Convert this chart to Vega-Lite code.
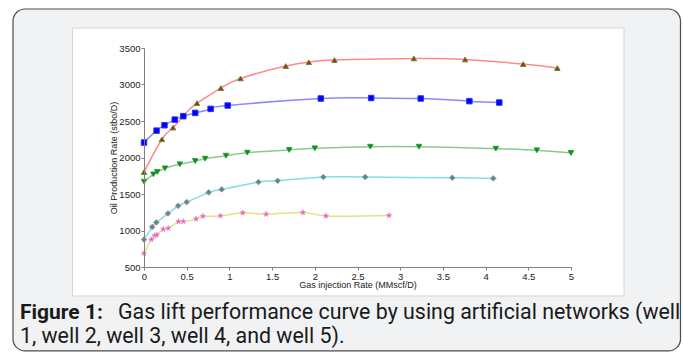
{
  "$schema": "https://vega.github.io/schema/vega-lite/v6.json",
  "width": 427,
  "height": 219,
  "autosize": {"type": "none"},
  "padding": {"left": 144, "top": 48, "right": 112, "bottom": 85},
  "background": "white",
  "config": {
    "view": {"stroke": null},
    "axis": {
      "grid": false, "domainColor": "#808080", "tickColor": "#808080", "tickSize": 3, "labelPadding": 1,
      "labelFlush": false, "labelOverlap": false, "labelFont": "Liberation Sans", "labelFontSize": 9.5, "labelColor": "#222",
      "titleFont": "Liberation Sans", "titleFontSize": 9, "titleFontWeight": "normal", "titleColor": "#222", "titlePadding": 0
    }
  },
  "datasets": {
    "one": [{}],
    "wells": [
      {"well": "Well 1", "x": 0, "y": 1800}, {"well": "Well 1", "x": 0.21, "y": 2250}, {"well": "Well 1", "x": 0.34, "y": 2410}, {"well": "Well 1", "x": 0.46, "y": 2570}, {"well": "Well 1", "x": 0.62, "y": 2745}, {"well": "Well 1", "x": 0.9, "y": 2950}, {"well": "Well 1", "x": 1.13, "y": 3083}, {"well": "Well 1", "x": 1.66, "y": 3253}, {"well": "Well 1", "x": 1.93, "y": 3305}, {"well": "Well 1", "x": 2.23, "y": 3335}, {"well": "Well 1", "x": 3.16, "y": 3357}, {"well": "Well 1", "x": 3.76, "y": 3343}, {"well": "Well 1", "x": 4.44, "y": 3280}, {"well": "Well 1", "x": 4.84, "y": 3225},
      {"well": "Well 2", "x": 0, "y": 2205}, {"well": "Well 2", "x": 0.147, "y": 2368}, {"well": "Well 2", "x": 0.24, "y": 2442}, {"well": "Well 2", "x": 0.36, "y": 2519}, {"well": "Well 2", "x": 0.46, "y": 2566}, {"well": "Well 2", "x": 0.6, "y": 2611}, {"well": "Well 2", "x": 0.78, "y": 2666}, {"well": "Well 2", "x": 0.98, "y": 2712}, {"well": "Well 2", "x": 2.07, "y": 2808}, {"well": "Well 2", "x": 2.66, "y": 2815}, {"well": "Well 2", "x": 3.24, "y": 2808}, {"well": "Well 2", "x": 3.81, "y": 2772}, {"well": "Well 2", "x": 4.16, "y": 2753},
      {"well": "Well 3", "x": 0, "y": 1668}, {"well": "Well 3", "x": 0.11, "y": 1769}, {"well": "Well 3", "x": 0.155, "y": 1801}, {"well": "Well 3", "x": 0.245, "y": 1851}, {"well": "Well 3", "x": 0.42, "y": 1907}, {"well": "Well 3", "x": 0.6, "y": 1952}, {"well": "Well 3", "x": 0.716, "y": 1984}, {"well": "Well 3", "x": 0.96, "y": 2025}, {"well": "Well 3", "x": 1.21, "y": 2066}, {"well": "Well 3", "x": 1.7, "y": 2103}, {"well": "Well 3", "x": 2.0, "y": 2126}, {"well": "Well 3", "x": 2.65, "y": 2148}, {"well": "Well 3", "x": 3.22, "y": 2148}, {"well": "Well 3", "x": 4.12, "y": 2121}, {"well": "Well 3", "x": 4.6, "y": 2099}, {"well": "Well 3", "x": 5.0, "y": 2062},
      {"well": "Well 4", "x": 0, "y": 876}, {"well": "Well 4", "x": 0.096, "y": 1049}, {"well": "Well 4", "x": 0.145, "y": 1110}, {"well": "Well 4", "x": 0.28, "y": 1233}, {"well": "Well 4", "x": 0.4, "y": 1338}, {"well": "Well 4", "x": 0.5, "y": 1389}, {"well": "Well 4", "x": 0.757, "y": 1522}, {"well": "Well 4", "x": 0.91, "y": 1563}, {"well": "Well 4", "x": 1.34, "y": 1663}, {"well": "Well 4", "x": 1.565, "y": 1681}, {"well": "Well 4", "x": 2.1, "y": 1732}, {"well": "Well 4", "x": 2.59, "y": 1732}, {"well": "Well 4", "x": 3.61, "y": 1723}, {"well": "Well 4", "x": 4.09, "y": 1714},
      {"well": "Well 5", "x": 0, "y": 688}, {"well": "Well 5", "x": 0.086, "y": 876}, {"well": "Well 5", "x": 0.125, "y": 931}, {"well": "Well 5", "x": 0.15, "y": 940}, {"well": "Well 5", "x": 0.225, "y": 1018}, {"well": "Well 5", "x": 0.285, "y": 1032}, {"well": "Well 5", "x": 0.404, "y": 1124}, {"well": "Well 5", "x": 0.46, "y": 1124}, {"well": "Well 5", "x": 0.61, "y": 1159}, {"well": "Well 5", "x": 0.69, "y": 1196}, {"well": "Well 5", "x": 0.895, "y": 1200}, {"well": "Well 5", "x": 1.156, "y": 1242}, {"well": "Well 5", "x": 1.43, "y": 1224}, {"well": "Well 5", "x": 1.86, "y": 1247}, {"well": "Well 5", "x": 2.13, "y": 1200}, {"well": "Well 5", "x": 2.87, "y": 1206}
    ]
  },
  "layer": [
    {
      "data": {"name": "one"},
      "mark": {"type": "rect", "fill": "#f1f2f4", "stroke": "#4d4d4d", "strokeWidth": 1.2, "cornerRadius": 12},
      "encoding": {
        "x": {"datum": -1.534, "type": "quantitative", "axis": {"zindex": 1, "labelOverlap": false, "tickCount": 20, "title": "Gas injection Rate (MMscf/D)", "values": [0, 0.5, 1, 1.5, 2, 2.5, 3, 3.5, 4, 4.5, 5], "format": "~g"}},
        "x2": {"datum": 6.282},
        "y": {"datum": 4034, "type": "quantitative", "axis": {"zindex": 1, "labelOverlap": false, "tickCount": 20, "title": "Oil Production Rate (stbo/D)", "values": [500, 1000, 1500, 2000, 2500, 3000, 3500], "format": "d"}},
        "y2": {"datum": -650}
      }
    },
    {
      "data": {"name": "one"},
      "mark": {"type": "rect", "fill": "white", "stroke": "#d4d4d4", "strokeWidth": 1},
      "encoding": {
        "x": {"datum": -0.837, "type": "quantitative"}, "x2": {"datum": 5.621},
        "y": {"datum": 3774, "type": "quantitative"}, "y2": {"datum": 103}
      }
    },
    {
      "data": {"name": "one"},
      "mark": {"type": "text", "align": "left", "baseline": "alphabetic", "font": "Roboto", "fontSize": 21, "fontWeight": "bold", "color": "#1a1a1a", "text": "Figure 1:"},
      "encoding": {"x": {"datum": -1.452, "type": "quantitative"}, "y": {"datum": -205.5, "type": "quantitative"}}
    },
    {
      "data": {"name": "one"},
      "mark": {"type": "text", "align": "left", "baseline": "alphabetic", "font": "Roboto", "fontSize": 21.4, "color": "#1a1a1a", "text": "Gas lift performance curve by using artificial networks (well"},
      "encoding": {"x": {"datum": -0.304, "type": "quantitative"}, "y": {"datum": -205.5, "type": "quantitative"}}
    },
    {
      "data": {"name": "one"},
      "mark": {"type": "text", "align": "left", "baseline": "alphabetic", "font": "Roboto", "fontSize": 21.4, "color": "#1a1a1a", "text": "1, well 2, well 3, well 4, and well 5)."},
      "encoding": {"x": {"datum": -1.452, "type": "quantitative"}, "y": {"datum": -541, "type": "quantitative"}}
    },
    {
      "data": {"name": "wells"},
      "mark": {"type": "line", "interpolate": "natural", "strokeWidth": 1.5, "clip": true},
      "encoding": {
        "x": {
          "field": "x", "type": "quantitative",
          "scale": {"domain": [0, 5], "nice": false, "zero": false},
          "axis": {"zindex": 1, "labelOverlap": false, "tickCount": 20, "title": "Gas injection Rate (MMscf/D)", "values": [0, 0.5, 1, 1.5, 2, 2.5, 3, 3.5, 4, 4.5, 5], "format": "~g"}
        },
        "y": {
          "field": "y", "type": "quantitative",
          "scale": {"domain": [500, 3500], "nice": false, "zero": false},
          "axis": {"zindex": 1, "labelOverlap": false, "tickCount": 20, "title": "Oil Production Rate (stbo/D)", "values": [500, 1000, 1500, 2000, 2500, 3000, 3500], "format": "d"}
        },
        "color": {
          "field": "well", "type": "nominal", "legend": null,
          "scale": {"domain": ["Well 1", "Well 2", "Well 3", "Well 4", "Well 5"], "range": ["#ff8a8a", "#8a8aff", "#8cc88c", "#80e0e0", "#e2e27e"]}
        }
      }
    },
    {
      "data": {"name": "wells"},
      "mark": {"type": "point", "filled": true, "size": 30, "strokeWidth": 1, "strokeOpacity": 1, "opacity": 1},
      "encoding": {
        "x": {"field": "x", "type": "quantitative"},
        "y": {"field": "y", "type": "quantitative"},
        "shape": {
          "field": "well", "type": "nominal", "legend": null,
          "scale": {"domain": ["Well 1", "Well 2", "Well 3", "Well 4", "Well 5"], "range": ["triangle-up", "square", "triangle-down", "diamond", "M0,-1L0.22,-0.3L0.95,-0.3L0.36,0.12L0.59,0.81L0,0.38L-0.59,0.81L-0.36,0.12L-0.95,-0.3L-0.22,-0.3Z"]}
        },
        "fill": {
          "field": "well", "type": "nominal", "legend": null,
          "scale": {"domain": ["Well 1", "Well 2", "Well 3", "Well 4", "Well 5"], "range": ["#dd1010", "#0000ff", "#008a3a", "#18a6a6", "#e040e0"]}
        },
        "stroke": {
          "field": "well", "type": "nominal", "legend": null,
          "scale": {"domain": ["Well 1", "Well 2", "Well 3", "Well 4", "Well 5"], "range": ["#3f9f3f", "#3030ff", "#2aa02a", "#e07070", "#f090c8"]}
        }
      }
    }
  ]
}
